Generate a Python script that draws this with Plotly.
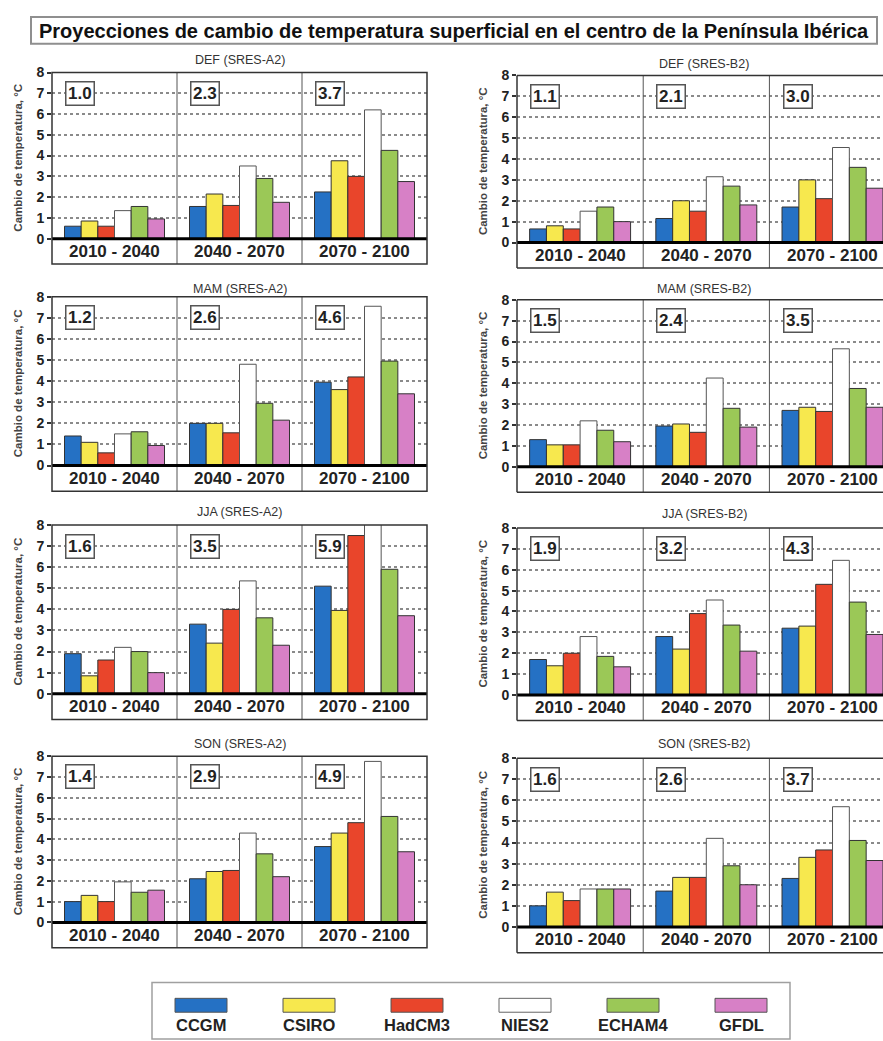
import plotly.graph_objects as go

# ---------------- data ----------------
models = ["CCGM", "CSIRO", "HadCM3", "NIES2", "ECHAM4", "GFDL"]
model_colors = ["#2571c4", "#f7e84e", "#e9452b", "#ffffff", "#9bc857", "#d780c6"]
periods = ["2010 - 2040", "2040 - 2070", "2070 - 2100"]

# each list: one row per period, values in model order
def_a2 = [[0.60, 0.85, 0.60, 1.35, 1.55, 0.95],
          [1.55, 2.15, 1.60, 3.50, 2.90, 1.75],
          [2.25, 3.75, 3.00, 6.20, 4.25, 2.75]]
def_b2 = [[0.65, 0.80, 0.65, 1.50, 1.70, 1.00],
          [1.15, 2.00, 1.50, 3.15, 2.70, 1.80],
          [1.70, 3.00, 2.10, 4.55, 3.60, 2.60]]
mam_a2 = [[1.40, 1.10, 0.60, 1.50, 1.60, 0.95],
          [2.00, 2.00, 1.55, 4.80, 2.95, 2.15],
          [3.95, 3.60, 4.20, 7.55, 4.95, 3.40]]
mam_b2 = [[1.30, 1.05, 1.05, 2.20, 1.75, 1.20],
          [1.95, 2.05, 1.65, 4.25, 2.80, 1.90],
          [2.70, 2.85, 2.65, 5.65, 3.75, 2.85]]
jja_a2 = [[1.90, 0.85, 1.60, 2.20, 2.00, 1.00],
          [3.30, 2.40, 4.00, 5.35, 3.60, 2.30],
          [5.10, 3.95, 7.50, 8.40, 5.90, 3.70]]
jja_b2 = [[1.70, 1.40, 2.00, 2.80, 1.85, 1.35],
          [2.80, 2.20, 3.90, 4.55, 3.35, 2.10],
          [3.20, 3.30, 5.30, 6.45, 4.45, 2.90]]
son_a2 = [[1.00, 1.30, 1.00, 1.95, 1.45, 1.55],
          [2.10, 2.45, 2.50, 4.30, 3.30, 2.20],
          [3.65, 4.30, 4.80, 7.75, 5.10, 3.40]]
son_b2 = [[1.00, 1.65, 1.25, 1.80, 1.80, 1.80],
          [1.70, 2.35, 2.35, 4.20, 2.90, 2.00],
          [2.30, 3.30, 3.65, 5.70, 4.10, 3.15]]

# ensemble means shown in the boxes
mean_def_a2 = ["1.0", "2.3", "3.7"]
mean_def_b2 = ["1.1", "2.1", "3.0"]
mean_mam_a2 = ["1.2", "2.6", "4.6"]
mean_mam_b2 = ["1.5", "2.4", "3.5"]
mean_jja_a2 = ["1.6", "3.5", "5.9"]
mean_jja_b2 = ["1.9", "3.2", "4.3"]
mean_son_a2 = ["1.4", "2.9", "4.9"]
mean_son_b2 = ["1.6", "2.6", "3.7"]

panel_titles = ["DEF (SRES-A2)", "DEF (SRES-B2)", "MAM (SRES-A2)", "MAM (SRES-B2)",
                "JJA (SRES-A2)", "JJA (SRES-B2)", "SON (SRES-A2)", "SON (SRES-B2)"]
panel_values = [def_a2, def_b2, mam_a2, mam_b2, jja_a2, jja_b2, son_a2, son_b2]
panel_means = [mean_def_a2, mean_def_b2, mean_mam_a2, mean_mam_b2,
               mean_jja_a2, mean_jja_b2, mean_son_a2, mean_son_b2]

main_title = "Proyecciones de cambio de temperatura superficial en el centro de la Península Ibérica"
y_title = "Cambio de temperatura, °C"
y_ticks = [0, 1, 2, 3, 4, 5, 6, 7, 8]

# ---------------- layout geometry (pixels) ----------------
W, H = 883, 1041
FONT = "Liberation Sans, Arial, sans-serif"
left_x = (52, 427)
right_x = (517, 883)
left_xmax = 2.5
right_xmax = 2.40   # right-hand panels are cut by the page edge
left_rows = [(65, 258), (291, 487), (521, 717), (754, 947)]
right_rows = [(68, 262), (294, 488), (524, 718), (756, 952)]
left_title_y = [52, 283, 508, 742]
right_title_y = [56, 283, 510, 742]
Y_LOW = -1.22


def px(x):
    return x / W


def py(y):
    return 1 - y / H


fig = go.Figure()
layout = dict(width=W, height=H, margin=dict(l=0, r=0, t=0, b=0),
              paper_bgcolor="white", plot_bgcolor="white",
              barmode="group", bargap=0.2, bargroupgap=0.0,
              showlegend=False, font=dict(family=FONT, color="#222"))
shapes = []
annotations = []

for k in range(8):
    col = k % 2
    row = k // 2
    xs = left_x if col == 0 else right_x
    top, bot = (left_rows if col == 0 else right_rows)[row]
    xa = "x" if k == 0 else f"x{k+1}"
    ya = "y" if k == 0 else f"y{k+1}"
    xkey = "xaxis" if k == 0 else f"xaxis{k+1}"
    ykey = "yaxis" if k == 0 else f"yaxis{k+1}"
    xmax = left_xmax if col == 0 else right_xmax
    layout[xkey] = dict(domain=[px(xs[0]), px(xs[1])], anchor=ya, type="category",
                        categoryorder="array", categoryarray=periods,
                        range=[-0.5, xmax], showticklabels=False, ticks="",
                        showgrid=False, zeroline=False, showline=False, fixedrange=True)
    layout[ykey] = dict(domain=[py(bot), py(top)], anchor=xa, range=[Y_LOW, 8],
                        tickvals=y_ticks, ticktext=[str(t) for t in y_ticks],
                        ticks="outside", ticklen=4, tickwidth=1.5, tickcolor="#333",
                        tickfont=dict(size=14, family=FONT, color="#222", weight="bold"),
                        showgrid=True, gridcolor="#8a8a8a", griddash="3px,3px", gridwidth=1.5,
                        zeroline=False, showline=False, fixedrange=True)

    vals = panel_values[k]
    for m, name in enumerate(models):
        fig.add_trace(go.Bar(
            x=periods, y=[vals[p][m] for p in range(3)], name=name,
            marker=dict(color=model_colors[m],
                        line=dict(color="#555" if name == "NIES2" else "#333", width=1)),
            xaxis=xa, yaxis=ya, showlegend=False, hoverinfo="skip"))

    # group separators
    for sx in (0.5, 1.5):
        shapes.append(dict(type="line", xref=xa, yref=f"{ya} domain", x0=sx, x1=sx, y0=0, y1=1,
                           line=dict(color="#555", width=1)))
    # thick zero line
    shapes.append(dict(type="line", xref=f"{xa} domain", yref=ya, x0=0, x1=1, y0=0, y1=0,
                       line=dict(color="#000", width=3)))
    # frame
    if col == 0:
        shapes.append(dict(type="rect", xref=f"{xa} domain", yref=f"{ya} domain",
                           x0=0, x1=1, y0=0, y1=1, line=dict(color="#333", width=1.5)))
    else:
        for (x0, x1, y0, y1) in [(0, 0, 0, 1), (0, 1, 1, 1), (0, 1, 0, 0)]:
            shapes.append(dict(type="line", xref=f"{xa} domain", yref=f"{ya} domain",
                               x0=x0, x1=x1, y0=y0, y1=y1, line=dict(color="#333", width=1.5)))

    # period labels in the bottom strip
    for p, lab in enumerate(periods):
        annotations.append(dict(x=p, y=Y_LOW / 2, xref=xa, yref=ya, text=f"<b>{lab}</b>",
                                showarrow=False, font=dict(size=17, family=FONT, color="#222"),
                                xanchor="center", yanchor="middle"))
        # ensemble mean box
        annotations.append(dict(x=p - 0.5 + 0.105, y=7, xref=xa, yref=ya,
                                text=f"<b>{panel_means[k][p]}</b>", showarrow=False,
                                font=dict(size=17, family=FONT, color="#222"),
                                xanchor="left", yanchor="middle", bgcolor="white",
                                bordercolor="#555", borderwidth=1.5, borderpad=1.5))

    # panel title
    tx = (xs[0] + xs[1]) / 2 if col == 0 else 704
    ty = (left_title_y if col == 0 else right_title_y)[row]
    annotations.append(dict(x=px(tx), y=py(ty), xref="paper", yref="paper",
                            text=panel_titles[k], showarrow=False,
                            font=dict(size=12.5, family=FONT, color="#333"),
                            xanchor="center", yanchor="middle"))
    # y-axis title
    yx = 18 if col == 0 else 483
    annotations.append(dict(x=px(yx), y=3.9, xref="paper", yref=ya, text=f"<b>{y_title}</b>",
                            showarrow=False, textangle=-90,
                            font=dict(size=11.5, family=FONT, color="#444"),
                            xanchor="center", yanchor="middle"))

# main title box
shapes.append(dict(type="rect", xref="paper", yref="paper", x0=px(31), x1=px(877),
                   y0=py(36), y1=py(9), line=dict(color="#8f8f8f", width=2), fillcolor="white",
                   layer="below"))
annotations.append(dict(x=px(454), y=py(23), xref="paper", yref="paper",
                        text=f"<b>{main_title}</b>", showarrow=False,
                        font=dict(size=20, family=FONT, color="#111"),
                        xanchor="center", yanchor="middle"))

# custom legend
shapes.append(dict(type="rect", xref="paper", yref="paper", x0=px(152), x1=px(790),
                   y0=py(1039), y1=py(982), line=dict(color="#a0a0a0", width=1.5),
                   fillcolor="white", layer="below"))
leg_centers = [201, 309, 417, 525, 633, 741]
for m, name in enumerate(models):
    cx = leg_centers[m]
    shapes.append(dict(type="rect", xref="paper", yref="paper", x0=px(cx - 26), x1=px(cx + 26),
                       y0=py(1012), y1=py(998), fillcolor=model_colors[m],
                       line=dict(color="#666" if name == "NIES2" else "#555", width=1)))
    annotations.append(dict(x=px(cx), y=py(1025), xref="paper", yref="paper",
                            text=f"<b>{name}</b>", showarrow=False,
                            font=dict(size=16.5, family=FONT, color="#222"),
                            xanchor="center", yanchor="middle"))

layout["shapes"] = shapes
layout["annotations"] = annotations
fig.update_layout(**layout)
fig.write_html("out.html", config={"displayModeBar": False},
               post_script="document.body.style.margin='0';document.body.style.overflow='hidden';")
